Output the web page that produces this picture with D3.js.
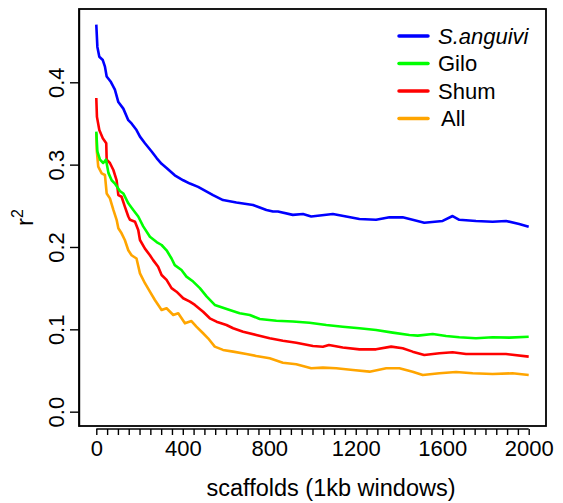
<!DOCTYPE html>
<html>
<head>
<meta charset="utf-8">
<script src="https://cdn.jsdelivr.net/npm/d3@7"></script>
<style>
  html, body { margin: 0; padding: 0; background: #fff; }
  svg { display: block; font-family: "Liberation Sans", Arial, sans-serif; }
</style>
</head>
<body>
<svg id="chart" width="563" height="503"></svg>
<script>
// LD decay: mean r^2 against distance in scaffold windows
const seriesNames = ["S.anguivi", "Gilo", "Shum", "All"];
const seriesColors = ["#0000ff", "#00ff00", "#ff0000", "#ffa500"];

const sanguiviX = [0,5,14,30,40,48,66,86,102,125,148,163,186,202,225,256,279,302,325,363,402,433,471,540,586,648,725,756,787,817,840,909,956,994,1094,1156,1217,1294,1356,1417,1463,1517,1602,1648,1679,1756,1833,1895,1956,2000];
const sanguiviR = [.470,.443,.431,.427,.419,.407,.401,.391,.376,.368,.354,.350,.342,.334,.326,.316,.308,.301,.296,.287,.281,.277,.273,.263,.257,.254,.251,.248,.245,.243,.243,.239,.240,.237,.240,.237,.234,.233,.236,.236,.233,.2295,.2316,.2376,.233,.2316,.2307,.2316,.228,.2247];

const giloX = [0,5,17,32,45,56,71,86,109,125,148,171,194,217,248,279,302,325,348,363,394,417,448,479,510,548,579,617,663,710,756,833,909,986,1064,1140,1217,1294,1371,1448,1487,1556,1618,1679,1756,1833,1910,2000];
const giloR = [.340,.316,.306,.302,.306,.290,.281,.277,.268,.265,.253,.245,.237,.225,.2125,.206,.2024,.196,.186,.178,.172,.164,.158,.150,.140,.1296,.1268,.1235,.1195,.1174,.1125,.1105,.1095,.108,.1053,.1032,.1013,.0992,.096,.0931,.0923,.0944,.0919,.0903,.0891,.0903,.0899,.091];

const shumX = [0,3,14,30,46,48,63,79,94,102,117,132,148,156,179,194,202,225,248,263,286,302,325,348,371,402,433,456,494,525,556,602,633,679,740,802,863,925,1002,1048,1076,1140,1217,1294,1364,1417,1463,1517,1587,1648,1710,1802,1895,2000];
const shumR = [.381,.358,.342,.332,.326,.306,.302,.2935,.281,.263,.261,.249,.237,.233,.2307,.2206,.2085,.198,.190,.184,.176,.166,.160,.150,.1457,.1377,.1336,.1296,.1214,.1134,.1093,.1053,.1013,.0971,.0931,.0891,.0862,.0838,.0798,.0789,.081,.078,.0757,.0757,.079,.077,.0729,.0689,.0709,.0721,.070,.070,.070,.0668];

const allX = [0,2,9,25,40,48,63,79,94,102,117,132,148,163,186,202,225,248,271,302,325,356,379,410,440,463,494,517,548,586,633,694,740,802,863,925,994,1048,1110,1187,1264,1341,1402,1463,1510,1587,1664,1741,1833,1925,2000];
const allR = [.338,.318,.2975,.2895,.2874,.265,.259,.245,.233,.2227,.2166,.2085,.196,.190,.186,.168,.156,.1457,.1356,.1235,.1256,.1174,.1195,.1073,.110,.1032,.0952,.0891,.079,.075,.0729,.070,.0676,.0648,.0595,.0576,.0527,.0535,.0527,.0506,.0486,.0527,.0527,.0486,.0446,.0466,.0482,.0466,.0458,.0466,.0446];

const xTickLabels = [0, 400, 800, 1200, 1600, 2000];
const xMinorStep = 50;
const yTickLabels = [0.0, 0.1, 0.2, 0.3, 0.4];

const xs = [sanguiviX, giloX, shumX, allX];
const rs = [sanguiviR, giloR, shumR, allR];

const svg = d3.select("#chart");
const box = { left: 79, right: 546, top: 9, bottom: 426 };

const x = d3.scaleLinear().domain([-80, 2080]).range([box.left, box.right]);
const y = d3.scaleLinear().domain([-0.0174, 0.489]).range([box.bottom, box.top]);

// curves (drawn first, back to front: All, Shum, Gilo, S.anguivi)
const line = d3.line().x(d => x(d[0])).y(d => y(d[1]));
for (let i = xs.length - 1; i >= 0; i--) {
  const pts = xs[i].map((v, k) => [v, rs[i][k]]);
  svg.append("path")
    .datum(pts)
    .attr("d", line)
    .attr("fill", "none")
    .attr("stroke", seriesColors[i])
    .attr("stroke-width", 2.6)
    .attr("stroke-linejoin", "round");
}

// plot frame
svg.append("rect")
  .attr("x", box.left).attr("y", box.top)
  .attr("width", box.right - box.left).attr("height", box.bottom - box.top)
  .attr("fill", "none").attr("stroke", "#000").attr("stroke-width", 1.8);

// x axis: minor ticks every 50, labels every 400
const xAxisY = 429;
const xMinor = d3.range(0, 2000 + xMinorStep, xMinorStep);
const gx = svg.append("g").attr("transform", `translate(0,${xAxisY})`);
const xAxis = d3.axisBottom(x)
  .tickValues(xMinor)
  .tickSize(6)
  .tickSizeOuter(0)
  .tickFormat(d => xTickLabels.includes(d) ? String(d) : "");
gx.call(xAxis);
gx.select(".domain").attr("stroke", "#000").attr("stroke-width", 1.4)
  .attr("d", `M${x(0)},0H${x(2000)}`);
gx.selectAll(".tick line").attr("stroke", "#000").attr("stroke-width", 1.4);
gx.selectAll(".tick text")
  .attr("y", 26.5).attr("dy", null)
  .attr("font-size", 22).attr("font-family", "Liberation Sans, Arial, sans-serif")
  .attr("fill", "#000");

// y axis: rotated tick labels
const gy = svg.append("g").attr("transform", `translate(${box.left},0)`);
const yAxis = d3.axisLeft(y).tickValues(yTickLabels).tickSize(9).tickSizeOuter(0)
  .tickFormat(d3.format(".1f"));
gy.call(yAxis);
gy.select(".domain").attr("stroke", "#000").attr("stroke-width", 1.4);
gy.selectAll(".tick line").attr("stroke", "#000").attr("stroke-width", 1.4);
gy.selectAll(".tick text")
  .attr("x", null).attr("dy", null)
  .attr("transform", "translate(-15.5,0) rotate(-90)")
  .attr("text-anchor", "middle")
  .attr("font-size", 22).attr("font-family", "Liberation Sans, Arial, sans-serif")
  .attr("fill", "#000");

// axis titles
svg.append("text")
  .attr("x", 331).attr("y", 496)
  .attr("text-anchor", "middle")
  .attr("font-size", 23.5)
  .text("scaffolds (1kb windows)");

const yTitle = svg.append("text")
  .attr("transform", `translate(33,${(box.top + box.bottom) / 2}) rotate(-90)`)
  .attr("text-anchor", "middle")
  .attr("font-size", 24);
yTitle.append("tspan").text("r");
yTitle.append("tspan").attr("font-size", 16).attr("dy", -10).text("2");

// legend
const legendY = [36, 63.5, 91, 118.5];
const legendTextX = [438, 438, 438, 441];
seriesNames.forEach((name, i) => {
  svg.append("line")
    .attr("x1", 399).attr("x2", 428)
    .attr("y1", legendY[i]).attr("y2", legendY[i])
    .attr("stroke", seriesColors[i]).attr("stroke-width", 3.5)
    .attr("stroke-linecap", "round");
  svg.append("text")
    .attr("x", legendTextX[i]).attr("y", legendY[i] + 7.5)
    .attr("font-size", 22)
    .attr("font-style", i === 0 ? "italic" : "normal")
    .text(name);
});
</script>
</body>
</html>
